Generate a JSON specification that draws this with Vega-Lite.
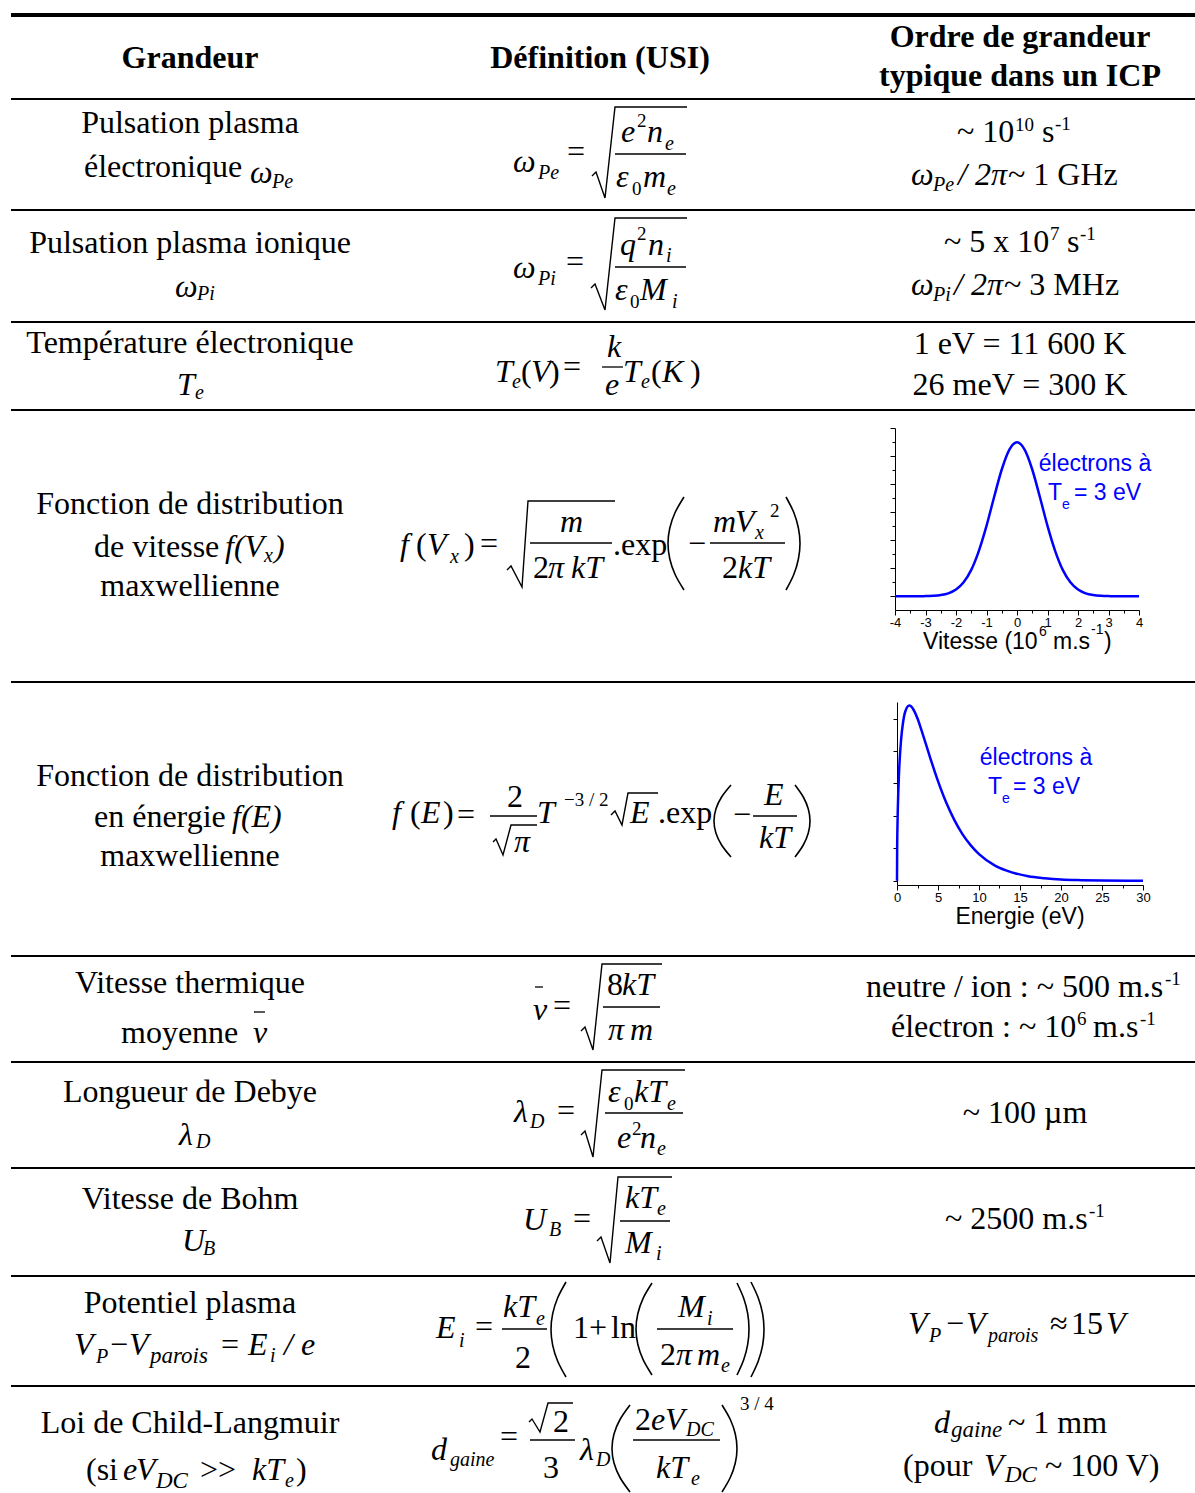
{
"$schema":"https://vega.github.io/schema/vega-lite/v6.json",
"width":1195,"height":1493,"padding":0,"autosize":{"type":"none"},"background":"white",
"config":{"view":{"stroke":null}},
"datasets":{
"lines":[
{"x":11,"x2":1195,"y":15,"k":"top"},
{"x":11,"x2":1195,"y":99,"k":"t"},{"x":11,"x2":1195,"y":210,"k":"t"},{"x":11,"x2":1195,"y":322,"k":"t"},{"x":11,"x2":1195,"y":410,"k":"t"},{"x":11,"x2":1195,"y":682,"k":"t"},{"x":11,"x2":1195,"y":956,"k":"t"},{"x":11,"x2":1195,"y":1062,"k":"t"},{"x":11,"x2":1195,"y":1168,"k":"t"},{"x":11,"x2":1195,"y":1276,"k":"t"},{"x":11,"x2":1195,"y":1386,"k":"t"},
{"x":615,"x2":686,"y":154,"k":"f"},{"x":615,"x2":686,"y":267,"k":"f"},{"x":602,"x2":623,"y":367,"k":"f"},{"x":530,"x2":612,"y":543,"k":"f"},{"x":710,"x2":785,"y":543,"k":"f"},{"x":490,"x2":537,"y":816,"k":"f"},{"x":753,"x2":797,"y":816,"k":"f"},{"x":603,"x2":660,"y":1007,"k":"f"},{"x":605,"x2":683,"y":1113,"k":"f"},{"x":620,"x2":670,"y":1221,"k":"f"},{"x":502,"x2":547,"y":1329,"k":"f"},{"x":657,"x2":733,"y":1329,"k":"f"},{"x":530,"x2":575,"y":1440,"k":"f"},{"x":633,"x2":720,"y":1440,"k":"f"},
{"x":535,"x2":543,"y":987,"k":"f"},{"x":254,"x2":265,"y":1012,"k":"f"}
],
"strokes":[
{"g":"r1","o":1,"x":592,"y":176,"k":"rad"},{"g":"r1","o":2,"x":596,"y":172,"k":"rad"},{"g":"r1","o":3,"x":605,"y":198,"k":"rad"},{"g":"r1","o":4,"x":615,"y":107,"k":"rad"},{"g":"r1","o":5,"x":687,"y":107,"k":"rad"},
{"g":"r2","o":1,"x":591,"y":288,"k":"rad"},{"g":"r2","o":2,"x":595,"y":284,"k":"rad"},{"g":"r2","o":3,"x":605,"y":310,"k":"rad"},{"g":"r2","o":4,"x":615,"y":218,"k":"rad"},{"g":"r2","o":5,"x":687,"y":218,"k":"rad"},
{"g":"r3","o":1,"x":507,"y":570,"k":"rad"},{"g":"r3","o":2,"x":511,"y":566,"k":"rad"},{"g":"r3","o":3,"x":522,"y":587,"k":"rad"},{"g":"r3","o":4,"x":528,"y":501,"k":"rad"},{"g":"r3","o":5,"x":615,"y":501,"k":"rad"},
{"g":"r4","o":1,"x":493,"y":842,"k":"rad"},{"g":"r4","o":2,"x":496,"y":839,"k":"rad"},{"g":"r4","o":3,"x":503,"y":855,"k":"rad"},{"g":"r4","o":4,"x":511,"y":825,"k":"rad"},{"g":"r4","o":5,"x":537,"y":825,"k":"rad"},
{"g":"r5","o":1,"x":611,"y":815,"k":"rad"},{"g":"r5","o":2,"x":615,"y":811,"k":"rad"},{"g":"r5","o":3,"x":622,"y":825,"k":"rad"},{"g":"r5","o":4,"x":628,"y":793,"k":"rad"},{"g":"r5","o":5,"x":658,"y":793,"k":"rad"},
{"g":"r6","o":1,"x":581,"y":1031,"k":"rad"},{"g":"r6","o":2,"x":585,"y":1027,"k":"rad"},{"g":"r6","o":3,"x":593,"y":1050,"k":"rad"},{"g":"r6","o":4,"x":602,"y":964,"k":"rad"},{"g":"r6","o":5,"x":662,"y":964,"k":"rad"},
{"g":"r7","o":1,"x":581,"y":1135,"k":"rad"},{"g":"r7","o":2,"x":585,"y":1131,"k":"rad"},{"g":"r7","o":3,"x":593,"y":1157,"k":"rad"},{"g":"r7","o":4,"x":602,"y":1070,"k":"rad"},{"g":"r7","o":5,"x":685,"y":1070,"k":"rad"},
{"g":"r8","o":1,"x":597,"y":1241,"k":"rad"},{"g":"r8","o":2,"x":601,"y":1237,"k":"rad"},{"g":"r8","o":3,"x":610,"y":1263,"k":"rad"},{"g":"r8","o":4,"x":618,"y":1177,"k":"rad"},{"g":"r8","o":5,"x":672,"y":1177,"k":"rad"},
{"g":"r9","o":1,"x":529,"y":1422,"k":"rad"},{"g":"r9","o":2,"x":532,"y":1419,"k":"rad"},{"g":"r9","o":3,"x":540,"y":1432,"k":"rad"},{"g":"r9","o":4,"x":548,"y":1403,"k":"rad"},{"g":"r9","o":5,"x":573,"y":1403,"k":"rad"},
{"g":"p1","o":1,"x":684,"y":497,"k":"par"},{"g":"p1","o":2,"x":675.1,"y":512.5,"k":"par"},{"g":"p1","o":3,"x":669.8,"y":528,"k":"par"},{"g":"p1","o":4,"x":668,"y":543.5,"k":"par"},{"g":"p1","o":5,"x":669.8,"y":559,"k":"par"},{"g":"p1","o":6,"x":675.1,"y":574.5,"k":"par"},{"g":"p1","o":7,"x":684,"y":590,"k":"par"},
{"g":"p2","o":1,"x":786,"y":497,"k":"par"},{"g":"p2","o":2,"x":793.8,"y":512.5,"k":"par"},{"g":"p2","o":3,"x":798.4,"y":528,"k":"par"},{"g":"p2","o":4,"x":800,"y":543.5,"k":"par"},{"g":"p2","o":5,"x":798.4,"y":559,"k":"par"},{"g":"p2","o":6,"x":793.8,"y":574.5,"k":"par"},{"g":"p2","o":7,"x":786,"y":590,"k":"par"},
{"g":"p3","o":1,"x":731,"y":785,"k":"par"},{"g":"p3","o":2,"x":721.6,"y":797,"k":"par"},{"g":"p3","o":3,"x":715.9,"y":809,"k":"par"},{"g":"p3","o":4,"x":714,"y":821,"k":"par"},{"g":"p3","o":5,"x":715.9,"y":833,"k":"par"},{"g":"p3","o":6,"x":721.6,"y":845,"k":"par"},{"g":"p3","o":7,"x":731,"y":857,"k":"par"},
{"g":"p4","o":1,"x":795,"y":785,"k":"par"},{"g":"p4","o":2,"x":803.3,"y":797,"k":"par"},{"g":"p4","o":3,"x":808.3,"y":809,"k":"par"},{"g":"p4","o":4,"x":810,"y":821,"k":"par"},{"g":"p4","o":5,"x":808.3,"y":833,"k":"par"},{"g":"p4","o":6,"x":803.3,"y":845,"k":"par"},{"g":"p4","o":7,"x":795,"y":857,"k":"par"},
{"g":"p5","o":1,"x":566,"y":1282,"k":"par"},{"g":"p5","o":2,"x":557.7,"y":1297.8,"k":"par"},{"g":"p5","o":3,"x":552.7,"y":1313.7,"k":"par"},{"g":"p5","o":4,"x":551,"y":1329.5,"k":"par"},{"g":"p5","o":5,"x":552.7,"y":1345.3,"k":"par"},{"g":"p5","o":6,"x":557.7,"y":1361.2,"k":"par"},{"g":"p5","o":7,"x":566,"y":1377,"k":"par"},
{"g":"p6","o":1,"x":652,"y":1283,"k":"par"},{"g":"p6","o":2,"x":643.1,"y":1298.3,"k":"par"},{"g":"p6","o":3,"x":637.8,"y":1313.7,"k":"par"},{"g":"p6","o":4,"x":636,"y":1329,"k":"par"},{"g":"p6","o":5,"x":637.8,"y":1344.3,"k":"par"},{"g":"p6","o":6,"x":643.1,"y":1359.7,"k":"par"},{"g":"p6","o":7,"x":652,"y":1375,"k":"par"},
{"g":"p7","o":1,"x":737,"y":1283,"k":"par"},{"g":"p7","o":2,"x":743.7,"y":1298.3,"k":"par"},{"g":"p7","o":3,"x":747.7,"y":1313.7,"k":"par"},{"g":"p7","o":4,"x":749,"y":1329,"k":"par"},{"g":"p7","o":5,"x":747.7,"y":1344.3,"k":"par"},{"g":"p7","o":6,"x":743.7,"y":1359.7,"k":"par"},{"g":"p7","o":7,"x":737,"y":1375,"k":"par"},
{"g":"p8","o":1,"x":751,"y":1282,"k":"par"},{"g":"p8","o":2,"x":758.2,"y":1297.8,"k":"par"},{"g":"p8","o":3,"x":762.6,"y":1313.7,"k":"par"},{"g":"p8","o":4,"x":764,"y":1329.5,"k":"par"},{"g":"p8","o":5,"x":762.6,"y":1345.3,"k":"par"},{"g":"p8","o":6,"x":758.2,"y":1361.2,"k":"par"},{"g":"p8","o":7,"x":751,"y":1377,"k":"par"},
{"g":"p9","o":1,"x":630,"y":1405,"k":"par"},{"g":"p9","o":2,"x":620,"y":1419.5,"k":"par"},{"g":"p9","o":3,"x":614,"y":1434,"k":"par"},{"g":"p9","o":4,"x":612,"y":1448.5,"k":"par"},{"g":"p9","o":5,"x":614,"y":1463,"k":"par"},{"g":"p9","o":6,"x":620,"y":1477.5,"k":"par"},{"g":"p9","o":7,"x":630,"y":1492,"k":"par"},
{"g":"p10","o":1,"x":722,"y":1405,"k":"par"},{"g":"p10","o":2,"x":730.3,"y":1419.5,"k":"par"},{"g":"p10","o":3,"x":735.3,"y":1434,"k":"par"},{"g":"p10","o":4,"x":737,"y":1448.5,"k":"par"},{"g":"p10","o":5,"x":735.3,"y":1463,"k":"par"},{"g":"p10","o":6,"x":730.3,"y":1477.5,"k":"par"},{"g":"p10","o":7,"x":722,"y":1492,"k":"par"}
],
"txt":[
{"t":"Grandeur","x":190,"y":68,"s":"bc"},
{"t":"Définition (USI)","x":600,"y":68,"s":"bc"},
{"t":"Ordre de grandeur","x":1020,"y":47,"s":"bc"},
{"t":"typique dans un ICP","x":1020,"y":86,"s":"bc"},
{"t":"Pulsation plasma","x":190,"y":133,"s":"rc"},
{"t":"électronique","x":84,"y":177,"s":"r"},
{"t":"ω","x":250,"y":183,"s":"i"},
{"t":"Pe","x":272,"y":188,"s":"is"},
{"t":"ω","x":513,"y":172,"s":"i"},
{"t":"Pe","x":538,"y":179,"s":"is"},
{"t":"=","x":567,"y":162,"s":"r"},
{"t":"e","x":621,"y":142,"s":"i"},
{"t":"2","x":637,"y":127,"s":"rs"},
{"t":"n","x":647,"y":142,"s":"i"},
{"t":"e","x":665,"y":150,"s":"is"},
{"t":"ε","x":616,"y":187,"s":"i"},
{"t":"0","x":632,"y":195,"s":"rs"},
{"t":"m","x":643,"y":187,"s":"i"},
{"t":"e","x":667,"y":195,"s":"is"},
{"t":"~ 10","x":957,"y":142,"s":"r"},
{"t":"10","x":1015,"y":131,"s":"rs"},
{"t":"s","x":1042,"y":142,"s":"r"},
{"t":"-1","x":1055,"y":130,"s":"rs"},
{"t":"ω","x":911,"y":185,"s":"i"},
{"t":"Pe","x":933,"y":191,"s":"is"},
{"t":"/ 2π","x":958,"y":185,"s":"i"},
{"t":"~ 1 GHz","x":1008,"y":185,"s":"r"},
{"t":"Pulsation plasma ionique","x":190,"y":253,"s":"rc"},
{"t":"ω","x":175,"y":297,"s":"i"},
{"t":"Pi","x":197,"y":300,"s":"is"},
{"t":"ω","x":513,"y":278,"s":"i"},
{"t":"Pi","x":538,"y":285,"s":"is"},
{"t":"=","x":566,"y":272,"s":"r"},
{"t":"q","x":620,"y":255,"s":"i"},
{"t":"2","x":637,"y":240,"s":"rs"},
{"t":"n","x":648,"y":255,"s":"i"},
{"t":"i","x":666,"y":262,"s":"is"},
{"t":"ε","x":615,"y":300,"s":"i"},
{"t":"0","x":630,"y":308,"s":"rs"},
{"t":"M","x":640,"y":300,"s":"i"},
{"t":"i","x":672,"y":308,"s":"is"},
{"t":"~ 5 x 10","x":944,"y":252,"s":"r"},
{"t":"7","x":1050,"y":240,"s":"rs"},
{"t":"s","x":1067,"y":252,"s":"r"},
{"t":"-1","x":1080,"y":240,"s":"rs"},
{"t":"ω","x":911,"y":295,"s":"i"},
{"t":"Pi","x":933,"y":301,"s":"is"},
{"t":"/ 2π","x":954,"y":295,"s":"i"},
{"t":"~ 3 MHz","x":1004,"y":295,"s":"r"},
{"t":"Température électronique","x":190,"y":353,"s":"rc"},
{"t":"T","x":177,"y":395,"s":"i"},
{"t":"e","x":195,"y":399,"s":"is"},
{"t":"T","x":495,"y":382,"s":"i"},
{"t":"e","x":512,"y":388,"s":"is"},
{"t":"(","x":521,"y":382,"s":"r"},
{"t":"V","x":531,"y":382,"s":"i"},
{"t":")","x":549,"y":382,"s":"r"},
{"t":"=","x":563,"y":377,"s":"r"},
{"t":"k","x":607,"y":357,"s":"i"},
{"t":"e","x":605,"y":395,"s":"i"},
{"t":"T","x":623,"y":382,"s":"i"},
{"t":"e","x":641,"y":388,"s":"is"},
{"t":"(","x":651,"y":382,"s":"r"},
{"t":"K","x":662,"y":382,"s":"i"},
{"t":")","x":690,"y":382,"s":"r"},
{"t":"1 eV = 11 600 K","x":1020,"y":354,"s":"rc"},
{"t":"26 meV = 300 K","x":1020,"y":395,"s":"rc"},
{"t":"Fonction de distribution","x":190,"y":514,"s":"rc"},
{"t":"de vitesse","x":94,"y":557,"s":"r"},
{"t":"f(V","x":225,"y":557,"s":"i"},
{"t":"x","x":264,"y":562,"s":"is"},
{"t":")","x":274,"y":557,"s":"i"},
{"t":"maxwellienne","x":190,"y":596,"s":"rc"},
{"t":"f","x":400,"y":555,"s":"i"},
{"t":"(","x":416,"y":555,"s":"r"},
{"t":"V","x":427,"y":555,"s":"i"},
{"t":"x","x":450,"y":563,"s":"is"},
{"t":")","x":464,"y":555,"s":"r"},
{"t":"=","x":480,"y":554,"s":"r"},
{"t":"m","x":560,"y":532,"s":"i"},
{"t":"2","x":533,"y":578,"s":"r"},
{"t":"π","x":548,"y":578,"s":"i"},
{"t":"kT","x":571,"y":578,"s":"i"},
{"t":".exp","x":613,"y":555,"s":"r"},
{"t":"−","x":688,"y":554,"s":"r"},
{"t":"m","x":713,"y":532,"s":"i"},
{"t":"V","x":735,"y":532,"s":"i"},
{"t":"x","x":755,"y":539,"s":"is"},
{"t":"2","x":770,"y":517,"s":"rs"},
{"t":"2","x":722,"y":578,"s":"r"},
{"t":"kT","x":738,"y":578,"s":"i"},
{"t":"Fonction de distribution","x":190,"y":786,"s":"rc"},
{"t":"en énergie","x":94,"y":827,"s":"r"},
{"t":"f(E)","x":232,"y":827,"s":"i"},
{"t":"maxwellienne","x":190,"y":866,"s":"rc"},
{"t":"f","x":392,"y":823,"s":"i"},
{"t":"(","x":410,"y":823,"s":"r"},
{"t":"E","x":421,"y":823,"s":"i"},
{"t":")","x":443,"y":823,"s":"r"},
{"t":"=","x":457,"y":825,"s":"r"},
{"t":"2","x":507,"y":807,"s":"r"},
{"t":"π","x":514,"y":852,"s":"i"},
{"t":"T","x":537,"y":823,"s":"i"},
{"t":"−3 / 2","x":564,"y":806,"s":"rs"},
{"t":"E","x":630,"y":823,"s":"i"},
{"t":".exp","x":658,"y":823,"s":"r"},
{"t":"−","x":733,"y":825,"s":"r"},
{"t":"E","x":764,"y":805,"s":"i"},
{"t":"kT","x":759,"y":848,"s":"i"},
{"t":"Vitesse thermique","x":190,"y":993,"s":"rc"},
{"t":"moyenne","x":121,"y":1043,"s":"r"},
{"t":"v","x":253,"y":1043,"s":"i"},
{"t":"v","x":533,"y":1020,"s":"i"},
{"t":"=","x":553,"y":1016,"s":"r"},
{"t":"8","x":607,"y":995,"s":"r"},
{"t":"kT","x":622,"y":995,"s":"i"},
{"t":"π","x":608,"y":1040,"s":"i"},
{"t":"m","x":630,"y":1040,"s":"i"},
{"t":"neutre / ion : ~ 500 m.s","x":866,"y":997,"s":"r"},
{"t":"-1","x":1165,"y":985,"s":"rs"},
{"t":"électron : ~ 10","x":891,"y":1037,"s":"r"},
{"t":"6","x":1077,"y":1025,"s":"rs"},
{"t":"m.s","x":1093,"y":1037,"s":"r"},
{"t":"-1","x":1140,"y":1025,"s":"rs"},
{"t":"Longueur de Debye","x":190,"y":1102,"s":"rc"},
{"t":"λ","x":179,"y":1145,"s":"i"},
{"t":"D","x":196,"y":1148,"s":"is"},
{"t":"λ","x":514,"y":1122,"s":"i"},
{"t":"D","x":530,"y":1128,"s":"is"},
{"t":"=","x":557,"y":1121,"s":"r"},
{"t":"ε","x":608,"y":1102,"s":"i"},
{"t":"0","x":624,"y":1110,"s":"rs"},
{"t":"kT","x":634,"y":1102,"s":"i"},
{"t":"e","x":667,"y":1110,"s":"is"},
{"t":"e","x":617,"y":1148,"s":"i"},
{"t":"2","x":632,"y":1135,"s":"rs"},
{"t":"n","x":640,"y":1148,"s":"i"},
{"t":"e","x":657,"y":1155,"s":"is"},
{"t":"~ 100 µm","x":1025,"y":1123,"s":"rc"},
{"t":"Vitesse de Bohm","x":190,"y":1209,"s":"rc"},
{"t":"U","x":182,"y":1251,"s":"i"},
{"t":"B","x":203,"y":1255,"s":"is"},
{"t":"U","x":523,"y":1230,"s":"i"},
{"t":"B","x":549,"y":1236,"s":"is"},
{"t":"=","x":573,"y":1229,"s":"r"},
{"t":"kT","x":625,"y":1208,"s":"i"},
{"t":"e","x":657,"y":1215,"s":"is"},
{"t":"M","x":625,"y":1253,"s":"i"},
{"t":"i","x":656,"y":1260,"s":"is"},
{"t":"~ 2500 m.s","x":945,"y":1229,"s":"r"},
{"t":"-1","x":1089,"y":1217,"s":"rs"},
{"t":"Potentiel plasma","x":190,"y":1313,"s":"rc"},
{"t":"V","x":74,"y":1355,"s":"i"},
{"t":"P","x":96,"y":1363,"s":"is"},
{"t":"−","x":110,"y":1355,"s":"r"},
{"t":"V","x":129,"y":1355,"s":"i"},
{"t":"parois","x":150,"y":1363,"s":"im"},
{"t":"=","x":221,"y":1355,"s":"r"},
{"t":"E","x":248,"y":1355,"s":"i"},
{"t":"i","x":270,"y":1362,"s":"is"},
{"t":"/ e","x":284,"y":1355,"s":"i"},
{"t":"E","x":436,"y":1338,"s":"i"},
{"t":"i","x":459,"y":1347,"s":"is"},
{"t":"=","x":475,"y":1337,"s":"r"},
{"t":"kT","x":503,"y":1317,"s":"i"},
{"t":"e","x":536,"y":1325,"s":"is"},
{"t":"2","x":515,"y":1368,"s":"r"},
{"t":"1","x":573,"y":1338,"s":"r"},
{"t":"+","x":589,"y":1338,"s":"r"},
{"t":"ln","x":611,"y":1338,"s":"r"},
{"t":"M","x":678,"y":1317,"s":"i"},
{"t":"i","x":707,"y":1325,"s":"is"},
{"t":"2","x":660,"y":1365,"s":"r"},
{"t":"π","x":676,"y":1365,"s":"i"},
{"t":"m","x":697,"y":1365,"s":"i"},
{"t":"e","x":721,"y":1372,"s":"is"},
{"t":"V","x":908,"y":1334,"s":"i"},
{"t":"P","x":929,"y":1342,"s":"is"},
{"t":"−","x":946,"y":1334,"s":"r"},
{"t":"V","x":966,"y":1334,"s":"i"},
{"t":"parois","x":988,"y":1342,"s":"is"},
{"t":"≈","x":1050,"y":1334,"s":"r"},
{"t":"15","x":1071,"y":1334,"s":"r"},
{"t":"V","x":1106,"y":1334,"s":"i"},
{"t":"Loi de Child-Langmuir","x":190,"y":1433,"s":"rc"},
{"t":"(si","x":86,"y":1480,"s":"r"},
{"t":"e","x":123,"y":1480,"s":"i"},
{"t":"V","x":136,"y":1480,"s":"i"},
{"t":"DC","x":156,"y":1488,"s":"im"},
{"t":">>","x":200,"y":1480,"s":"r"},
{"t":"kT","x":252,"y":1480,"s":"i"},
{"t":"e","x":285,"y":1487,"s":"is"},
{"t":")","x":296,"y":1480,"s":"r"},
{"t":"d","x":431,"y":1460,"s":"i"},
{"t":"gaine","x":450,"y":1466,"s":"is"},
{"t":"=","x":500,"y":1447,"s":"r"},
{"t":"2","x":553,"y":1432,"s":"r"},
{"t":"3","x":543,"y":1478,"s":"r"},
{"t":"λ","x":580,"y":1460,"s":"i"},
{"t":"D","x":596,"y":1466,"s":"is"},
{"t":"2","x":635,"y":1430,"s":"r"},
{"t":"e","x":651,"y":1430,"s":"i"},
{"t":"V","x":665,"y":1430,"s":"i"},
{"t":"DC","x":686,"y":1436,"s":"is"},
{"t":"kT","x":656,"y":1478,"s":"i"},
{"t":"e","x":691,"y":1485,"s":"is"},
{"t":"3 / 4","x":740,"y":1410,"s":"rs"},
{"t":"d","x":934,"y":1433,"s":"i"},
{"t":"gaine","x":951,"y":1437,"s":"im"},
{"t":"~ 1 mm","x":1008,"y":1433,"s":"r"},
{"t":"(pour","x":903,"y":1476,"s":"r"},
{"t":"V","x":984,"y":1476,"s":"i"},
{"t":"DC","x":1005,"y":1482,"s":"im"},
{"t":"~ 100 V)","x":1045,"y":1476,"s":"r"},
{"t":"électrons à","x":1095,"y":471,"s":"abc"},
{"t":"T","x":1048,"y":500,"s":"ab"},
{"t":"e","x":1062,"y":509,"s":"abs"},
{"t":"= 3 eV","x":1074,"y":500,"s":"ab"},
{"t":"Vitesse (10","x":923,"y":649,"s":"a"},
{"t":"6","x":1039,"y":636,"s":"as"},
{"t":"m.s","x":1053,"y":649,"s":"a"},
{"t":"-1","x":1091,"y":634,"s":"as"},
{"t":")","x":1104,"y":649,"s":"a"},
{"t":"électrons à","x":1036,"y":765,"s":"abc"},
{"t":"T","x":988,"y":794,"s":"ab"},
{"t":"e","x":1002,"y":803,"s":"abs"},
{"t":"= 3 eV","x":1013,"y":794,"s":"ab"},
{"t":"Energie (eV)","x":1020,"y":924,"s":"ac"}
],
"gauss":[
{"v":-4,"f":0},{"v":-3.5,"f":0},{"v":-3,"f":0.005},{"v":-2.75,"f":0.015},{"v":-2.5,"f":0.042},{"v":-2.25,"f":0.105},{"v":-2,"f":0.24},{"v":-1.75,"f":0.5},{"v":-1.5,"f":0.94},{"v":-1.25,"f":1.62},{"v":-1,"f":2.51},{"v":-0.75,"f":3.54},{"v":-0.5,"f":4.52},{"v":-0.25,"f":5.23},{"v":0,"f":5.49},
{"v":0.25,"f":5.23},{"v":0.5,"f":4.52},{"v":0.75,"f":3.54},{"v":1,"f":2.51},{"v":1.25,"f":1.62},{"v":1.5,"f":0.94},{"v":1.75,"f":0.5},{"v":2,"f":0.24},{"v":2.25,"f":0.105},{"v":2.5,"f":0.042},{"v":2.75,"f":0.015},{"v":3,"f":0.005},{"v":3.5,"f":0},{"v":4,"f":0}
],
"energy":[
{"e":0,"f":0},{"e":0.02,"f":1.02},{"e":0.05,"f":1.6},{"e":0.1,"f":2.22},{"e":0.25,"f":3.34},{"e":0.5,"f":4.35},{"e":0.75,"f":4.9},{"e":1,"f":5.21},{"e":1.5,"f":5.4},{"e":2,"f":5.28},{"e":2.5,"f":5.0},{"e":3,"f":4.63},{"e":4,"f":3.83},{"e":5,"f":3.07},{"e":6,"f":2.41},{"e":7,"f":1.87},{"e":8,"f":1.43},{"e":9,"f":1.09},{"e":10,"f":0.82},{"e":12,"f":0.46},{"e":14,"f":0.26},{"e":16,"f":0.14},{"e":18,"f":0.08},{"e":20,"f":0.04},{"e":22.5,"f":0.02},{"e":25,"f":0.01},{"e":30,"f":0}
]
},
"layer":[
{"layer":[
{"data":{"name":"lines"},"transform":[{"filter":"datum.k==='top'"}],"mark":{"type":"rule","color":"#000","strokeWidth":4},
 "encoding":{"x":{"field":"x","type":"quantitative","scale":{"domain":[0,1195],"nice":false,"zero":false},"axis":null},"x2":{"field":"x2"},"y":{"field":"y","type":"quantitative","scale":{"domain":[0,1493],"nice":false,"zero":false,"reverse":true},"axis":null}}},
{"data":{"name":"lines"},"transform":[{"filter":"datum.k==='t'"}],"mark":{"type":"rule","color":"#000","strokeWidth":2},
 "encoding":{"x":{"field":"x","type":"quantitative"},"x2":{"field":"x2"},"y":{"field":"y","type":"quantitative"}}},
{"data":{"name":"lines"},"transform":[{"filter":"datum.k==='f'"}],"mark":{"type":"rule","color":"#000","strokeWidth":1.3},
 "encoding":{"x":{"field":"x","type":"quantitative"},"x2":{"field":"x2"},"y":{"field":"y","type":"quantitative"}}},
{"data":{"name":"strokes"},"transform":[{"filter":"datum.k==='rad'"}],"mark":{"type":"line","color":"#000","strokeWidth":1.4,"interpolate":"linear","strokeJoin":"miter"},
 "encoding":{"x":{"field":"x","type":"quantitative"},"y":{"field":"y","type":"quantitative"},"detail":{"field":"g"},"order":{"field":"o","type":"quantitative"}}},
{"data":{"name":"strokes"},"transform":[{"filter":"datum.k==='par'"}],"mark":{"type":"line","color":"#000","strokeWidth":1.6,"interpolate":"cardinal"},
 "encoding":{"x":{"field":"x","type":"quantitative"},"y":{"field":"y","type":"quantitative"},"detail":{"field":"g"},"order":{"field":"o","type":"quantitative"}}},
{"data":{"name":"txt"},"transform":[{"filter":"datum.s==='bc'"}],"mark":{"type":"text","font":"Liberation Serif","fontWeight":"bold","fontSize":32,"align":"center","baseline":"alphabetic","color":"#000"},
 "encoding":{"x":{"field":"x","type":"quantitative"},"y":{"field":"y","type":"quantitative"},"text":{"field":"t"}}},
{"data":{"name":"txt"},"transform":[{"filter":"datum.s==='rc'"}],"mark":{"type":"text","font":"Liberation Serif","fontSize":32,"align":"center","baseline":"alphabetic","color":"#000"},
 "encoding":{"x":{"field":"x","type":"quantitative"},"y":{"field":"y","type":"quantitative"},"text":{"field":"t"}}},
{"data":{"name":"txt"},"transform":[{"filter":"datum.s==='r'"}],"mark":{"type":"text","font":"Liberation Serif","fontSize":32,"align":"left","baseline":"alphabetic","color":"#000"},
 "encoding":{"x":{"field":"x","type":"quantitative"},"y":{"field":"y","type":"quantitative"},"text":{"field":"t"}}},
{"data":{"name":"txt"},"transform":[{"filter":"datum.s==='i'"}],"mark":{"type":"text","font":"Liberation Serif","fontStyle":"italic","fontSize":32,"align":"left","baseline":"alphabetic","color":"#000"},
 "encoding":{"x":{"field":"x","type":"quantitative"},"y":{"field":"y","type":"quantitative"},"text":{"field":"t"}}},
{"data":{"name":"txt"},"transform":[{"filter":"datum.s==='rs'"}],"mark":{"type":"text","font":"Liberation Serif","fontSize":19,"align":"left","baseline":"alphabetic","color":"#000"},
 "encoding":{"x":{"field":"x","type":"quantitative"},"y":{"field":"y","type":"quantitative"},"text":{"field":"t"}}},
{"data":{"name":"txt"},"transform":[{"filter":"datum.s==='is'"}],"mark":{"type":"text","font":"Liberation Serif","fontStyle":"italic","fontSize":20,"align":"left","baseline":"alphabetic","color":"#000"},
 "encoding":{"x":{"field":"x","type":"quantitative"},"y":{"field":"y","type":"quantitative"},"text":{"field":"t"}}},
{"data":{"name":"txt"},"transform":[{"filter":"datum.s==='im'"}],"mark":{"type":"text","font":"Liberation Serif","fontStyle":"italic","fontSize":23,"align":"left","baseline":"alphabetic","color":"#000"},
 "encoding":{"x":{"field":"x","type":"quantitative"},"y":{"field":"y","type":"quantitative"},"text":{"field":"t"}}},
{"data":{"name":"txt"},"transform":[{"filter":"datum.s==='a'"}],"mark":{"type":"text","font":"Liberation Sans","fontSize":23,"align":"left","baseline":"alphabetic","color":"#000"},
 "encoding":{"x":{"field":"x","type":"quantitative"},"y":{"field":"y","type":"quantitative"},"text":{"field":"t"}}},
{"data":{"name":"txt"},"transform":[{"filter":"datum.s==='as'"}],"mark":{"type":"text","font":"Liberation Sans","fontSize":14,"align":"left","baseline":"alphabetic","color":"#000"},
 "encoding":{"x":{"field":"x","type":"quantitative"},"y":{"field":"y","type":"quantitative"},"text":{"field":"t"}}},
{"data":{"name":"txt"},"transform":[{"filter":"datum.s==='ac'"}],"mark":{"type":"text","font":"Liberation Sans","fontSize":23,"align":"center","baseline":"alphabetic","color":"#000"},
 "encoding":{"x":{"field":"x","type":"quantitative"},"y":{"field":"y","type":"quantitative"},"text":{"field":"t"}}},
{"data":{"name":"txt"},"transform":[{"filter":"datum.s==='ab'"}],"mark":{"type":"text","font":"Liberation Sans","fontSize":23,"align":"left","baseline":"alphabetic","color":"#0000ff"},
 "encoding":{"x":{"field":"x","type":"quantitative"},"y":{"field":"y","type":"quantitative"},"text":{"field":"t"}}},
{"data":{"name":"txt"},"transform":[{"filter":"datum.s==='abs'"}],"mark":{"type":"text","font":"Liberation Sans","fontSize":14,"align":"left","baseline":"alphabetic","color":"#0000ff"},
 "encoding":{"x":{"field":"x","type":"quantitative"},"y":{"field":"y","type":"quantitative"},"text":{"field":"t"}}},
{"data":{"name":"txt"},"transform":[{"filter":"datum.s==='abc'"}],"mark":{"type":"text","font":"Liberation Sans","fontSize":23,"align":"center","baseline":"alphabetic","color":"#0000ff"},
 "encoding":{"x":{"field":"x","type":"quantitative"},"y":{"field":"y","type":"quantitative"},"text":{"field":"t"}}}
]},
{"data":{"name":"gauss"},"mark":{"type":"line","color":"#0000ff","strokeWidth":2.5,"interpolate":"monotone"},
 "encoding":{
  "x":{"field":"v","type":"quantitative","scale":{"domain":[-4,4],"range":[895,1139],"nice":false,"zero":false},
   "axis":{"orient":"bottom","offset":-883,"values":[-4,-3.5,-3,-2.5,-2,-1.5,-1,-0.5,0,0.5,1,1.5,2,2.5,3,3.5,4],"labelExpr":"datum.value % 1 === 0 ? '' + datum.value : ''","tickSize":{"condition":{"test":"datum.value % 1 === 0","value":5},"value":3},"title":null,"grid":false,"labelFont":"Liberation Sans","labelFontSize":13,"labelColor":"#000","labelFlush":false,"labelOverlap":false,"labelPadding":1,"domainColor":"#000","tickColor":"#000"}},
  "y":{"field":"f","type":"quantitative","scale":{"domain":[-0.49,6],"range":[610,428],"nice":false,"zero":false},
   "axis":{"orient":"left","offset":-895,"values":[0,0.5,1,1.5,2,2.5,3,3.5,4,4.5,5,5.5,6],"labels":false,"tickSize":{"condition":{"test":"datum.value % 1 === 0","value":5},"value":3},"title":null,"grid":false,"domainColor":"#000","tickColor":"#000"}}
 }},
{"data":{"name":"energy"},"mark":{"type":"line","color":"#0000ff","strokeWidth":2.5,"interpolate":"monotone"},
 "encoding":{
  "x":{"field":"e","type":"quantitative","scale":{"domain":[0,30],"range":[897,1143],"nice":false,"zero":false},
   "axis":{"orient":"bottom","offset":-608,"values":[0,2.5,5,7.5,10,12.5,15,17.5,20,22.5,25,27.5,30],"labelExpr":"datum.value % 5 === 0 ? '' + datum.value : ''","tickSize":{"condition":{"test":"datum.value % 5 === 0","value":5},"value":3},"title":null,"grid":false,"labelFont":"Liberation Sans","labelFontSize":13,"labelColor":"#000","labelFlush":false,"labelOverlap":false,"labelPadding":1,"domainColor":"#000","tickColor":"#000"}},
  "y":{"field":"f","type":"quantitative","scale":{"domain":[-0.13,5.51],"range":[885,702],"nice":false,"zero":false},
   "axis":{"orient":"left","offset":-897,"values":[0,1,2,3,4,5],"labels":false,"tickSize":4,"title":null,"grid":false,"domainColor":"#000","tickColor":"#000"}}
 }}
],
"resolve":{"scale":{"x":"independent","y":"independent"}}
}
